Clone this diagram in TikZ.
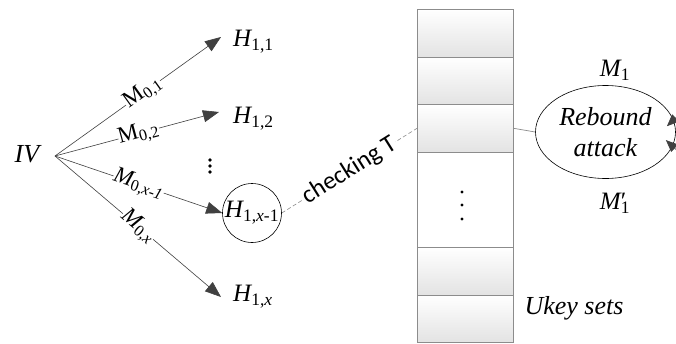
\documentclass[tikz,border=0pt]{standalone}
\usepackage{fontspec}
\setmainfont{Liberation Serif}
\newfontfamily\chkfont{Carlito}
\usetikzlibrary{arrows.meta,shapes.geometric}
\begin{document}
\begin{tikzpicture}[x=1pt,y=-1pt,
  txt/.style={font=\fontsize{26}{28}\selectfont\itshape, inner sep=1pt},
  htxt/.style={font=\fontsize{25}{27}\selectfont\itshape, inner sep=1pt},
  lbl/.style={font=\fontsize{23}{25}\selectfont, text=black, fill=white, inner sep=0.3pt, sloped},
  edge/.style={draw=black!75, line width=0.6pt},
  arr/.style={edge, -{Triangle[length=16pt,width=12pt]}, color=black!75},
  arrs/.style={edge, -{Triangle[length=12pt,width=10pt]}, color=black!75},
  cell/.style={draw=black!45, line width=0.6pt, top color=white, bottom color=black!11, minimum width=96pt, inner sep=0pt},
  dotc/.style={fill=black, draw=none, circle, inner sep=0pt, minimum size=3.6pt}
]
\clip (0,0) rectangle (676,343);
\fill[white] (0,0) rectangle (676,343);

% left tree
\node[txt] (iv) at (27,154) {IV};
\coordinate (src) at (55,156);
\node[htxt, anchor=west] (h11) at (232,42) {H\textsubscript{\upshape 1,1}};
\node[htxt, anchor=west] (h12) at (232,119) {H\textsubscript{\upshape 1,2}};
\node[htxt, anchor=west] (h1x) at (232,297) {H\textsubscript{\upshape 1,\itshape x}};
\node[htxt, draw=black, line width=0.6pt, circle, minimum size=59pt, inner sep=0pt] (h1xm) at (252,213) {H\textsubscript{\upshape 1,\itshape x\upshape -1}};
\coordinate (t1) at (221,37);
\coordinate (t2) at (219,112);
\coordinate (t4) at (221,297);

\draw[arr] (src) -- node[lbl, pos=0.53] {M\textsubscript{0,1}} (t1);
\draw[arr] (src) -- node[lbl, pos=0.51] {M\textsubscript{0,2}} (t2);
\draw[arr] (src) -- node[lbl, pos=0.5, font=\fontsize{23}{25}\selectfont\itshape] {M\textsubscript{\upshape 0,\itshape x-1}} (h1xm.west);
\draw[arr] (src) -- node[lbl, pos=0.5, font=\fontsize{23}{25}\selectfont\itshape] {M\textsubscript{\upshape 0,\itshape x}} (t4);

\node[dotc] (d1) at (210,160) {};
\node[dotc] (d2) at (210,166) {};
\node[dotc] (d3) at (210,172) {};

% stack of cells
\node[cell, minimum height=47.7pt, anchor=north west] (c1) at (417,9) {};
\node[cell, minimum height=47.6pt, anchor=north west] (c2) at (417,56.7) {};
\node[cell, minimum height=47.4pt, anchor=north west] (c3) at (417,104.3) {};
\node[cell, minimum height=95.6pt, anchor=north west, top color=white, bottom color=white] (c4) at (417,151.7) {};
\node[cell, minimum height=47.4pt, anchor=north west] (c5) at (417,247.3) {};
\node[cell, minimum height=47.4pt, anchor=north west] (c6) at (417,294.7) {};
\node[dotc, minimum size=3.2pt] (e1) at (462,192) {};
\node[dotc, minimum size=3.2pt] (e2) at (462,205) {};
\node[dotc, minimum size=3.2pt] (e3) at (462,219) {};

\draw[draw=black!45, line width=0.6pt, dash pattern=on 4pt off 2.5pt] (h1xm.east) -- node[sloped, fill=white, inner sep=1pt, font=\chkfont\fontsize{25}{27}\selectfont, pos=0.5] {checking T} (c3.west);

% rebound
\node[ellipse, draw=black, line width=0.6pt, minimum width=140pt, minimum height=93pt, inner sep=0pt, align=center, font=\fontsize{26}{31}\selectfont\itshape] (rb) at (605.5,132) {Rebound\\attack};
\draw[draw=black!45, line width=0.7pt] (c3.east) -- (rb.west);
\coordinate (a1) at (700,95);
\coordinate (a2) at (700,172);
\draw[arrs, shorten >=-9pt] (a1) -- (rb.10);
\draw[arrs, shorten >=-9pt] (a2) -- (rb.-12);
\node[htxt] (m1) at (615,70) {M\textsubscript{\upshape 1}};
\node[htxt] (m1p) at (615,203) {M\rlap{\upshape ′}\textsubscript{\upshape 1}};
\node[txt] (uk) at (574,308) {Ukey sets};
\end{tikzpicture}
\end{document}
